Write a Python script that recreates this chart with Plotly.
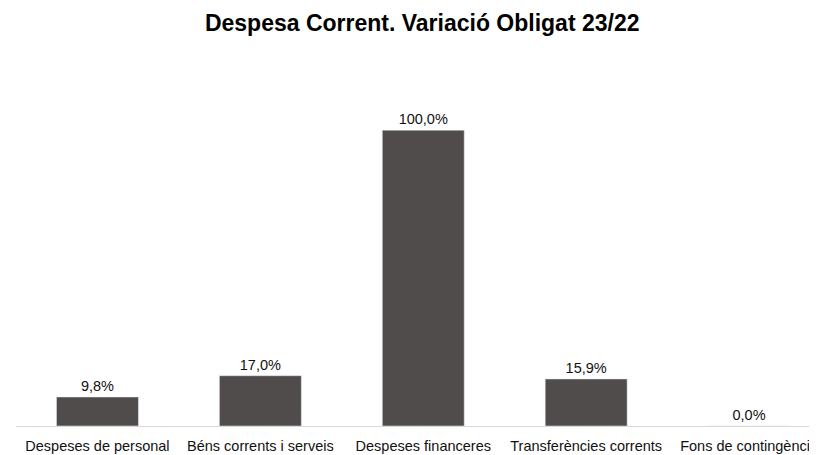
import plotly.graph_objects as go

categories = [
    "Despeses de personal",
    "Béns corrents i serveis",
    "Despeses financeres",
    "Transferències corrents",
    "Fons de contingència",
]
variation_pct = [9.8, 17.0, 100.0, 15.9, 0.0]

BAR_COLOR = "#504C4B"
FONT = "Liberation Sans, Arial, sans-serif"

fig = go.Figure()
fig.add_trace(
    go.Bar(
        x=categories,
        y=variation_pct,
        marker_color=BAR_COLOR,
        width=0.503,
        texttemplate="%{y:.1f}%",
        textposition="outside",
        textfont=dict(family=FONT, size=14.5, color="#111111"),
        cliponaxis=False,
    )
)

# the page adds an 8px body margin, so the plot box is offset by that
fig.update_layout(
    width=817,
    height=455,
    separators=",.",
    margin=dict(l=8, r=0, t=63, b=37),
    paper_bgcolor="#FFFFFF",
    plot_bgcolor="#FFFFFF",
    showlegend=False,
    title=dict(
        text="<b>Despesa Corrent. Variació Obligat 23/22</b>",
        font=dict(family=FONT, size=23, color="#000000"),
        x=0.507,
        xanchor="center",
        xref="container",
        y=0.968,
        yanchor="middle",
    ),
)
fig.update_xaxes(
    range=[-0.5, 4.466],
    automargin=False,
    showline=True,
    linecolor="#D9D9D9",
    linewidth=1,
    ticks="",
    ticklabelstandoff=7,
    tickfont=dict(family=FONT, size=14.5, color="#111111"),
    showgrid=False,
)
fig.update_yaxes(
    range=[0, 120],
    automargin=False,
    visible=False,
    showgrid=False,
    zeroline=False,
)

fig.write_html("out.html")
